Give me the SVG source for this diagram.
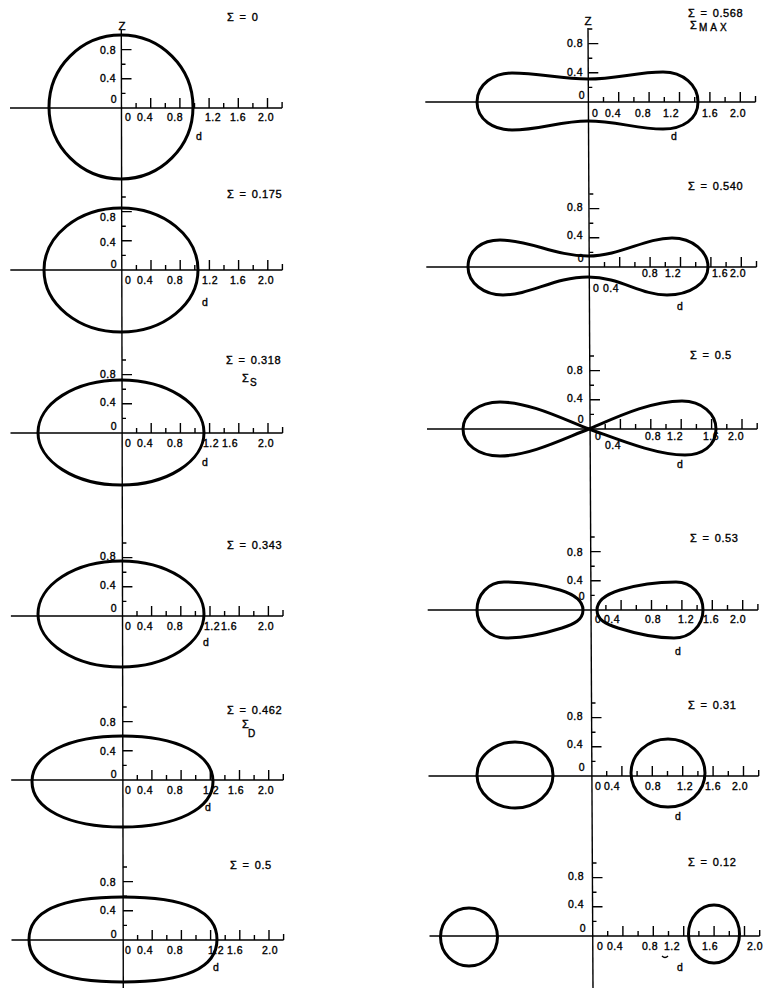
<svg xmlns="http://www.w3.org/2000/svg" width="774" height="997" viewBox="0 0 774 997">
<style>
.ax{fill:none;stroke:#000;stroke-width:1.4}
.sh{fill:none;stroke:#000;stroke-width:3}
text{font-family:"Liberation Sans",Arial,sans-serif;fill:#000;stroke:#000;stroke-width:0.35}
.tl{font-size:10.5px;letter-spacing:0.5px}
.vl{font-size:10.5px;letter-spacing:0.5px;text-anchor:end}
.sg{font-size:11px;letter-spacing:0.6px;word-spacing:1.5px}
.sub{font-size:10px}
.zl{font-size:11.5px;text-anchor:middle}
</style>
<defs>
<path id="htL" class="ax" d="M-111.5,0H160.6M14.6,0v-5M29.2,0v-10M43.8,0v-5M58.4,0v-10M73,0v-5M87.6,0v-10M102.2,0v-5M116.8,0v-10M131.4,0v-5M146,0v-10M160.6,0v-6"/>
<path id="htR" class="ax" d="M-163,0H167.2M15.2,0v-5M30.4,0v-10M45.6,0v-5M60.8,0v-10M76,0v-5M91.2,0v-10M106.4,0v-5M121.6,0v-10M136.8,0v-5M152,0v-10M167.2,0v-6"/>
<path id="vt" class="ax" d="M0,-14.6h4M0,-29.2h10M0,-43.8h4M0,-58.4h10M0,-73h4"/>
</defs>
<rect width="774" height="997" fill="#fff"/>

<g id="axes">
<line class="ax" x1="121.3" y1="30" x2="123.3" y2="988"/>
<line class="ax" x1="588" y1="28" x2="593" y2="988"/>
<use href="#htL" x="121.5" y="108"/><use href="#vt" x="121.5" y="108"/>
<use href="#htL" x="121.8" y="270"/><use href="#vt" x="121.8" y="270"/>
<use href="#htL" x="122" y="433"/><use href="#vt" x="122" y="433"/>
<use href="#htL" x="122.4" y="616"/><use href="#vt" x="122.4" y="616"/>
<use href="#htL" x="122.7" y="780"/><use href="#vt" x="122.7" y="780"/>
<use href="#htL" x="123" y="940"/><use href="#vt" x="123" y="940"/>
<use href="#htR" x="588.3" y="102"/><use href="#vt" x="588.3" y="102"/>
<use href="#htR" x="589.3" y="267"/><use href="#vt" x="589.3" y="267"/>
<use href="#htR" x="590" y="429"/><use href="#vt" x="590" y="429"/>
<use href="#htR" x="590.7" y="610"/><use href="#vt" x="590.7" y="610"/>
<use href="#htR" x="591.5" y="776"/><use href="#vt" x="591.5" y="776"/>
<use href="#htR" x="592.5" y="936"/><use href="#vt" x="592.5" y="936"/>
</g>

<g id="panel-L1">
<circle class="sh" cx="121" cy="107" r="72"/>
<text class="zl" x="122" y="30">Z</text>
<text class="sg" x="227" y="21">Σ = 0</text>
<text class="vl" x="116" y="53.5">0.8</text><text class="vl" x="116" y="81.5">0.4</text><text class="vl" x="117" y="103">0</text>
<text class="tl" x="125" y="121">0</text><text class="tl" x="137" y="121">0.4</text><text class="tl" x="167" y="121">0.8</text><text class="tl" x="205" y="121">1.2</text><text class="tl" x="230" y="121">1.6</text><text class="tl" x="258" y="121">2.0</text>
<text class="tl" x="196" y="140">d</text>
</g>

<g id="panel-L2">
<ellipse class="sh" cx="121" cy="270" rx="77" ry="62"/>
<text class="sg" x="227" y="198">Σ = 0.175</text>
<text class="vl" x="116" y="221">0.8</text><text class="vl" x="116" y="246">0.4</text><text class="vl" x="117" y="268">0</text>
<text class="tl" x="125" y="284">0</text><text class="tl" x="137" y="284">0.4</text><text class="tl" x="167" y="284">0.8</text><text class="tl" x="202" y="284">1.2</text><text class="tl" x="230" y="284">1.6</text><text class="tl" x="258" y="284">2.0</text>
<text class="tl" x="202" y="306">d</text>
</g>

<g id="panel-L3">
<ellipse class="sh" cx="121" cy="432.5" rx="83" ry="52.5"/>
<text class="sg" x="226" y="364">Σ = 0.318</text>
<text class="sg" x="242" y="382">Σ</text><text class="sub" x="250" y="386">S</text>
<text class="vl" x="116" y="377.5">0.8</text><text class="vl" x="116" y="405.5">0.4</text><text class="vl" x="117" y="429.5">0</text>
<text class="tl" x="125" y="447">0</text><text class="tl" x="137" y="447">0.4</text><text class="tl" x="167" y="447">0.8</text><text class="tl" x="203" y="447">1.2</text><text class="tl" x="222" y="447">1.6</text><text class="tl" x="258" y="447">2.0</text>
<text class="tl" x="202" y="466">d</text>
</g>

<g id="panel-L4">
<ellipse class="sh" cx="121" cy="614" rx="83" ry="53"/>
<text class="sg" x="227" y="549">Σ = 0.343</text>
<text class="vl" x="116" y="559.5">0.8</text><text class="vl" x="116" y="588.5">0.4</text><text class="vl" x="117" y="611.5">0</text>
<text class="tl" x="125" y="630">0</text><text class="tl" x="137" y="630">0.4</text><text class="tl" x="167" y="630">0.8</text><text class="tl" x="204" y="630">1.2</text><text class="tl" x="221" y="630">1.6</text><text class="tl" x="258" y="630">2.0</text>
<text class="tl" x="203" y="646">d</text>
</g>

<g id="panel-L5">
<path class="sh" d="M32,781.5C32,754.2 68.2,736 122.5,736C176.8,736 213,754.2 213,781.5C213,808.8 176.8,827 122.5,827C68.2,827 32,808.8 32,781.5Z"/>
<text class="sg" x="227" y="714">Σ = 0.462</text>
<text class="sg" x="242" y="728">Σ</text><text class="sub" x="248" y="737">D</text>
<text class="vl" x="116" y="725.5">0.8</text><text class="vl" x="116" y="754.5">0.4</text><text class="vl" x="117" y="777.5">0</text>
<text class="tl" x="125" y="794">0</text><text class="tl" x="137" y="794">0.4</text><text class="tl" x="167" y="794">0.8</text><text class="tl" x="203" y="794">1.2</text><text class="tl" x="228" y="794">1.6</text><text class="tl" x="258" y="794">2.0</text>
<text class="tl" x="205" y="811">d</text>
</g>

<g id="panel-L6">
<path class="sh" d="M29,939.5C29,911.45 60.96,897 123,897C185.04,897 217,911.45 217,939.5C217,967.55 185.04,982 123,982C60.96,982 29,967.55 29,939.5Z"/>
<text class="sg" x="230" y="869">Σ = 0.5</text>
<text class="vl" x="116" y="885.5">0.8</text><text class="vl" x="116" y="913.5">0.4</text><text class="vl" x="117" y="937.5">0</text>
<text class="tl" x="125" y="954">0</text><text class="tl" x="137" y="954">0.4</text><text class="tl" x="167" y="954">0.8</text><text class="tl" x="208" y="954">1.2</text><text class="tl" x="227" y="954">1.6</text><text class="tl" x="262" y="954">2.0</text>
<text class="tl" x="213" y="971">d</text>
</g>

<g id="panel-R1">
<path class="sh" d="M477,102C477,84 494,73 512,73C540,73 560,79 588,79C616,79 637,72 663,72C683,72 698,85 698,102C698,119 683,129 663,129C637,129 616,121 588,121C560,121 540,130 512,130C494,130 477,120 477,102Z"/>
<text class="zl" x="588" y="25">Z</text>
<text class="sg" x="688" y="17">Σ = 0.568</text>
<text class="sg" x="690" y="29">Σ</text><text class="sub" x="699" y="31" style="letter-spacing:3px">MAX</text>
<text class="vl" x="583" y="46.5">0.8</text><text class="vl" x="583" y="75.5">0.4</text><text class="vl" x="585" y="98.5">0</text>
<text class="tl" x="592" y="117">0</text><text class="tl" x="605" y="117">0.4</text><text class="tl" x="635" y="117">0.8</text><text class="tl" x="663" y="117">1.2</text><text class="tl" x="702" y="117">1.6</text><text class="tl" x="730" y="117">2.0</text>
<text class="tl" x="671" y="140">d</text>
</g>

<g id="panel-R2">
<path class="sh" d="M468,267C468,250 482,240 500,240C530,240 555,256 588,256C620,256 645,238 672,238C693,238 708,252 708,267C708,283 690,295 667,295C640,295 620,277 588,277C555,277 530,295 503,295C484,295 468,283 468,267Z"/>
<text class="sg" x="688" y="190">Σ = 0.540</text>
<text class="vl" x="583" y="210.5">0.8</text><text class="vl" x="583" y="238.5">0.4</text><text class="vl" x="584" y="261.5">0</text>
<text class="tl" x="642" y="277">0.8</text><text class="tl" x="665" y="277">1.2</text><text class="tl" x="712" y="277">1.6</text><text class="tl" x="730" y="277">2.0</text>
<text class="tl" x="593" y="292">0</text><text class="tl" x="603" y="292">0.4</text>
<text class="tl" x="677" y="310">d</text>
</g>

<g id="panel-R3">
<path class="sh" d="M589,429C615,418 650,401 682,401C702,401 716,414 716,429C716,446 702,455 685,455C655,455 615,438 589,429C565,420 530,402 500,402C478,402 463,415 463,429C463,444 478,456 500,456C530,456 565,438 589,429Z"/>
<text class="sg" x="690" y="359">Σ = 0.5</text>
<text class="vl" x="583" y="373.5">0.8</text><text class="vl" x="583" y="401.5">0.4</text><text class="vl" x="584" y="422.5">0</text>
<text class="tl" x="595" y="440">0</text><text class="tl" x="605" y="449">0.4</text><text class="tl" x="645" y="440">0.8</text><text class="tl" x="667" y="440">1.2</text><text class="tl" x="703" y="440">1.6</text><text class="tl" x="728" y="440">2.0</text>
<text class="tl" x="677" y="468">d</text>
</g>

<g id="panel-R4">
<path class="sh" d="M597,610C597,600 607,594 620,590C640,584 660,582 676,582C692,582 703,595 703,610C703,626 690,638 674,638C655,638 637,634 618,628C606,624 597,620 597,610Z"/>
<path class="sh" d="M583,610C583,600 573,594 560,590C540,584 520,582 504,582C488,582 477,595 477,610C477,626 490,638 506,638C525,638 543,634 562,628C574,624 583,620 583,610Z"/>
<text class="sg" x="690" y="542">Σ = 0.53</text>
<text class="vl" x="583" y="555.5">0.8</text><text class="vl" x="583" y="583.5">0.4</text><text class="vl" x="585" y="599.5">0</text>
<text class="tl" x="595" y="623">0</text><text class="tl" x="604" y="623">0.4</text><text class="tl" x="645" y="623">0.8</text><text class="tl" x="678" y="623">1.2</text><text class="tl" x="703" y="623">1.6</text><text class="tl" x="730" y="623">2.0</text>
<text class="tl" x="675" y="655">d</text>
</g>

<g id="panel-R5">
<ellipse class="sh" cx="515" cy="775" rx="38" ry="33"/>
<ellipse class="sh" cx="668" cy="773" rx="37" ry="34"/>
<text class="sg" x="688" y="709">Σ = 0.31</text>
<text class="vl" x="583" y="719.5">0.8</text><text class="vl" x="583" y="747.5">0.4</text><text class="vl" x="585" y="770.5">0</text>
<text class="tl" x="595" y="790">0</text><text class="tl" x="604" y="790">0.4</text><text class="tl" x="645" y="790">0.8</text><text class="tl" x="677" y="790">1.2</text><text class="tl" x="705" y="790">1.6</text><text class="tl" x="732" y="790">2.0</text>
<text class="tl" x="675" y="820">d</text>
</g>

<g id="panel-R6">
<ellipse class="sh" cx="469" cy="937" rx="28.5" ry="29"/>
<ellipse class="sh" cx="714" cy="934" rx="25.5" ry="29"/>
<text class="sg" x="688" y="866">Σ = 0.12</text>
<text class="vl" x="584" y="879.5">0.8</text><text class="vl" x="584" y="907.5">0.4</text><text class="vl" x="586" y="931.5">0</text>
<text class="tl" x="597" y="950">0</text><text class="tl" x="607" y="950">0.4</text><text class="tl" x="642" y="950">0.8</text><text class="tl" x="664" y="950">1.2</text><text class="tl" x="702" y="950">1.6</text><text class="tl" x="747" y="950">2.0</text>
<path class="ax" d="M662,956Q665,959 668,956"/>
<text class="tl" x="677" y="971">d</text>
</g>
</svg>
